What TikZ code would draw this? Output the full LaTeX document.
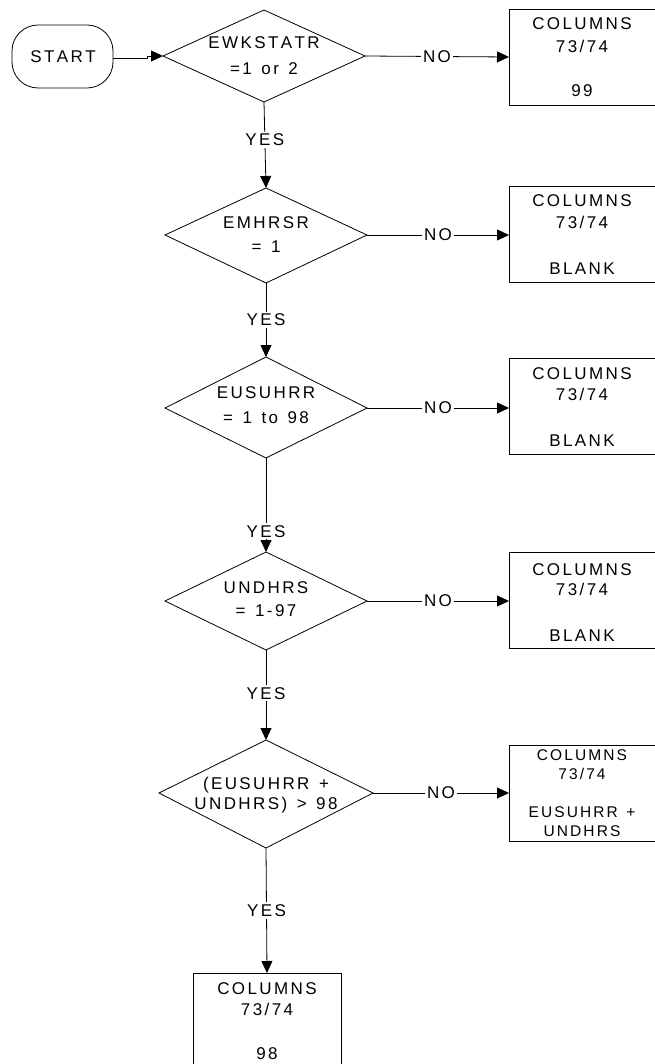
\documentclass[tikz,border=0pt]{standalone}
\usepackage{fontspec}
\setmainfont{Liberation Sans}
\usetikzlibrary{arrows.meta}
\newdimen\lsk \lsk=2.4pt
\def\smallls{\lsk 2.1pt\relax}
\def\ls#1{\lsfirst#1\relax}
\def\lsfirst#1{#1\lsnext}
\def\lsnext#1{\ifx#1\relax\else\kern\lsk #1\expandafter\lsnext\fi}
\begin{document}
\begin{tikzpicture}[x=1pt,y=-1pt,
  every node/.style={font=\fontsize{17}{20}\selectfont},
  t/.style={text height=12.2pt, text depth=0pt, inner sep=0pt},
  small/.style={t, font={\fontsize{15.5}{18}\selectfont\smallls}, text height=11.1pt},
  ln/.style={line width=0.8pt, draw=black},
  arr/.style={ln, -{Triangle[length=12pt,width=11pt]}},
  lbl/.style={fill=white, inner xsep=2pt, inner ysep=2pt}]
\useasboundingbox (0,0) rectangle (654,1064);
% START
\draw[ln, rounded corners=26pt] (12,25) rectangle (113,88);
\node[t] (start) at (63,56.5) {\ls{START}};
\coordinate (startR) at (113,58);

% decision 1
\draw[ln] (264,10) -- (365,56) -- (264,102) -- (163,56) -- cycle;
\coordinate (d1R) at (365,56); \coordinate (d1B) at (264,102); \coordinate (d1L) at (163,56);
\node[t] (d1a) at (264,42) {\ls{EWKSTATR}};
\node[t] (d1b) at (264,68) {\ls{=1~or~2}};

\draw[ln] (509,9) rectangle (655,105);
\coordinate (b1L) at (509,57);
\node[t] (b1a) at (582,23) {\ls{COLUMNS}};
\node[t] (b1b) at (582,46.5) {\ls{73/74}};
\node[t] (b1c) at (582,90) {\ls{99}};

% decision 2
\draw[ln] (266,188) -- (367,235) -- (266,283) -- (165,235) -- cycle;
\coordinate (d2T) at (266,188); \coordinate (d2R) at (367,235); \coordinate (d2B) at (266,283);
\node[t] (d2a) at (266,222) {\ls{EMHRSR}};
\node[t] (d2b) at (266,246) {\ls{=~1}};

\draw[ln] (509,186) rectangle (655,282);
\coordinate (b2L) at (509,235);
\node[t] (b2a) at (582,200) {\ls{COLUMNS}};
\node[t] (b2b) at (582,222) {\ls{73/74}};
\node[t] (b2c) at (582,268) {\ls{BLANK}};

% decision 3
\draw[ln] (266,357) -- (367,408) -- (266,458) -- (165,408) -- cycle;
\coordinate (d3T) at (266,357); \coordinate (d3R) at (367,408); \coordinate (d3B) at (266,458);
\node[t] (d3a) at (266,392) {\ls{EUSUHRR}};
\node[t] (d3b) at (266,417) {\ls{=~1~to~98}};

\draw[ln] (509,358) rectangle (655,454);
\coordinate (b3L) at (509,408);
\node[t] (b3a) at (582,373) {\ls{COLUMNS}};
\node[t] (b3b) at (582,394) {\ls{73/74}};
\node[t] (b3c) at (582,440) {\ls{BLANK}};

% decision 4
\draw[ln] (266,552) -- (367,601) -- (266,650) -- (165,601) -- cycle;
\coordinate (d4T) at (266,552); \coordinate (d4R) at (367,601); \coordinate (d4B) at (266,650);
\node[t] (d4a) at (266,587) {\ls{UNDHRS}};
\node[t] (d4b) at (266,610) {\ls{=~1-97}};

\draw[ln] (509,552) rectangle (655,648);
\coordinate (b4L) at (509,601);
\node[t] (b4a) at (582,569) {\ls{COLUMNS}};
\node[t] (b4b) at (582,589) {\ls{73/74}};
\node[t] (b4c) at (582,635) {\ls{BLANK}};

% decision 5
\draw[ln] (266,740) -- (373,793) -- (266,848) -- (159,793) -- cycle;
\coordinate (d5T) at (266,740); \coordinate (d5R) at (373,793); \coordinate (d5B) at (266,848);
\node[t] (d5a) at (266,783) {\ls{(EUSUHRR~+}};
\node[t] (d5b) at (266,803.5) {\ls{UNDHRS)~>~98}};

\draw[ln] (509,745) rectangle (655,841);
\coordinate (b5L) at (509,793);
\node[small] (b5a) at (582,755) {\ls{COLUMNS}};
\node[small] (b5b) at (582,774) {\ls{73/74}};
\node[small] (b5c) at (582,811.5) {\ls{EUSUHRR~+}};
\node[small] (b5d) at (582,831) {\ls{UNDHRS}};

% final box
\draw[ln] (193,973) rectangle (341,1065);
\coordinate (b6T) at (267,973);
\node[t] (b6a) at (267,988.5) {\ls{COLUMNS}};
\node[t] (b6b) at (267,1009) {\ls{73/74}};
\node[t] (b6c) at (267,1053) {\ls{98}};

% connectors
\draw[arr] (startR) -- ++(34,0) |- (d1L);
\draw[arr] (d1R) -- node[lbl] (n1) {\ls{NO}} (b1L);
\draw[arr] (d2R) -- node[lbl] (n2) {\ls{NO}} (b2L);
\draw[arr] (d3R) -- node[lbl] (n3) {\ls{NO}} (b3L);
\draw[arr] (d4R) -- node[lbl] (n4) {\ls{NO}} (b4L);
\draw[arr] (d5R) -- node[lbl] (n5) {\ls{NO}} (b5L);

\draw[arr] (d1B) -- node[lbl, pos=0.44] (y1) {\ls{YES}} (d2T);
\draw[arr] (d2B) -- node[lbl, pos=0.5] (y2) {\ls{YES}} (d3T);
\draw[arr] (d3B) -- node[lbl, pos=0.78] (y3) {\ls{YES}} (d4T);
\draw[arr] (d4B) -- node[lbl, pos=0.48] (y4) {\ls{YES}} (d5T);
\draw[arr] (d5B) -- node[lbl, pos=0.5] (y5) {\ls{YES}} (b6T);
\end{tikzpicture}
\end{document}
